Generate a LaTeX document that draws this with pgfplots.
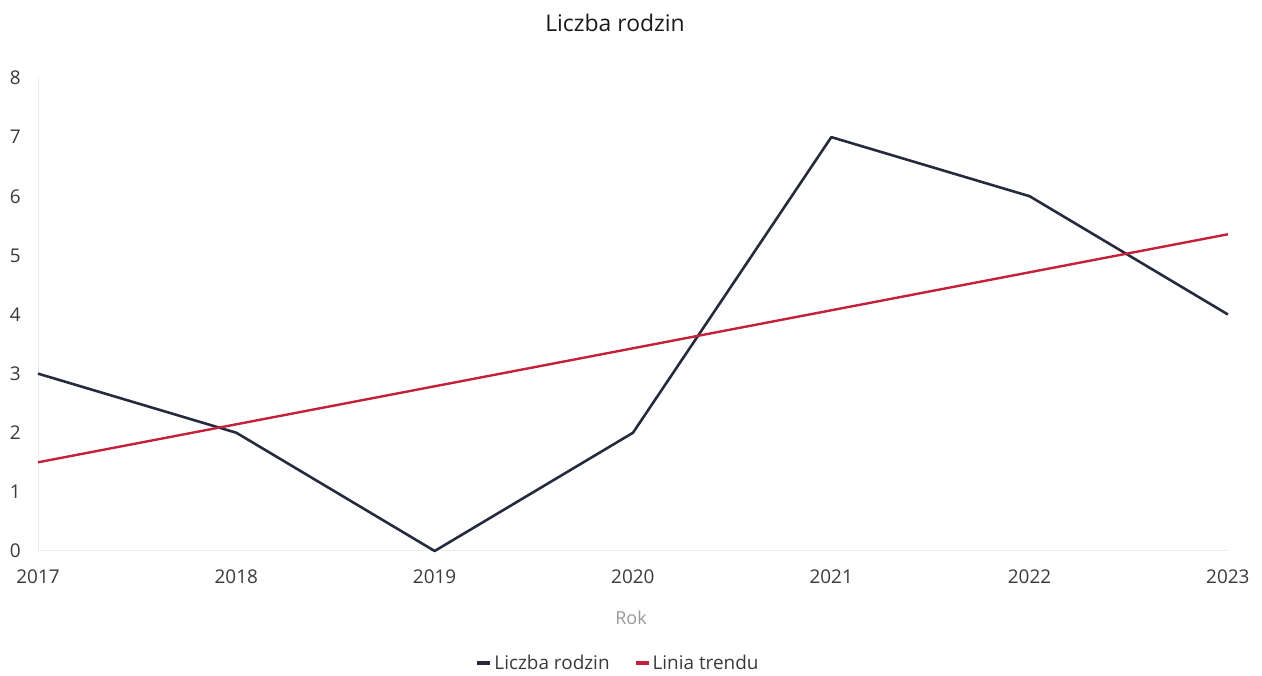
\documentclass[border=0pt]{standalone}
\usepackage{fontspec}
\setmainfont{Open Sans}
\usepackage{pgfplots}
\pgfplotsset{compat=1.18}
\definecolor{navy}{HTML}{262A3E}
\definecolor{trend}{HTML}{C4203A}
\definecolor{ticktext}{HTML}{3A3A3A}
\definecolor{faint}{HTML}{EBEBEB}
\begin{document}
\begin{tikzpicture}[x=1bp,y=1bp]
\useasboundingbox (0,0) rectangle (1262,676);
\node[font=\fontsize{23}{27}\selectfont, text=black!90] at (615,653) {Liczba rodzin};
\node[font=\fontsize{18}{22}\selectfont, text=black!40] at (631,58) {Rok};
\begin{axis}[
  at={(38bp,125bp)}, anchor=south west,
  scale only axis, width=1190bp, height=473bp,
  xmin=2017, xmax=2023, ymin=0, ymax=8,
  xtick={2017,...,2023}, ytick={0,...,8},
  major tick length=0pt,
  axis lines*=left,
  axis line style={faint, line width=1pt},
  /pgf/number format/assume math mode=true,
  /pgf/number format/1000 sep={},
  tick label style={font=\fontsize{19}{22}\selectfont, text=ticktext, inner sep=0pt},
  xticklabel style={anchor=center, yshift=-26bp},
  yticklabel style={anchor=east, xshift=-17bp},
  clip=false,
  legend columns=2,
  legend style={draw=none, fill=none, at={(0.4874,-0.2368)}, anchor=center,
    font=\fontsize{19}{22}\selectfont, text=ticktext,
    /tikz/every even column/.append style={column sep=22bp}},
  legend image code/.code={\draw[line width=4pt] (2bp,0bp) -- (15bp,0bp);},
]
\addplot[navy, line width=2.6pt, line join=round] coordinates {
  (2017,3) (2018,2) (2019,0) (2020,2) (2021,7) (2022,6) (2023,4)
};
\addlegendentry{Liczba rodzin}
\addplot[trend, line width=2.4pt] coordinates {
  (2017,1.5) (2023,5.357)
};
\addlegendentry{Linia trendu}
\end{axis}
\end{tikzpicture}
\end{document}
